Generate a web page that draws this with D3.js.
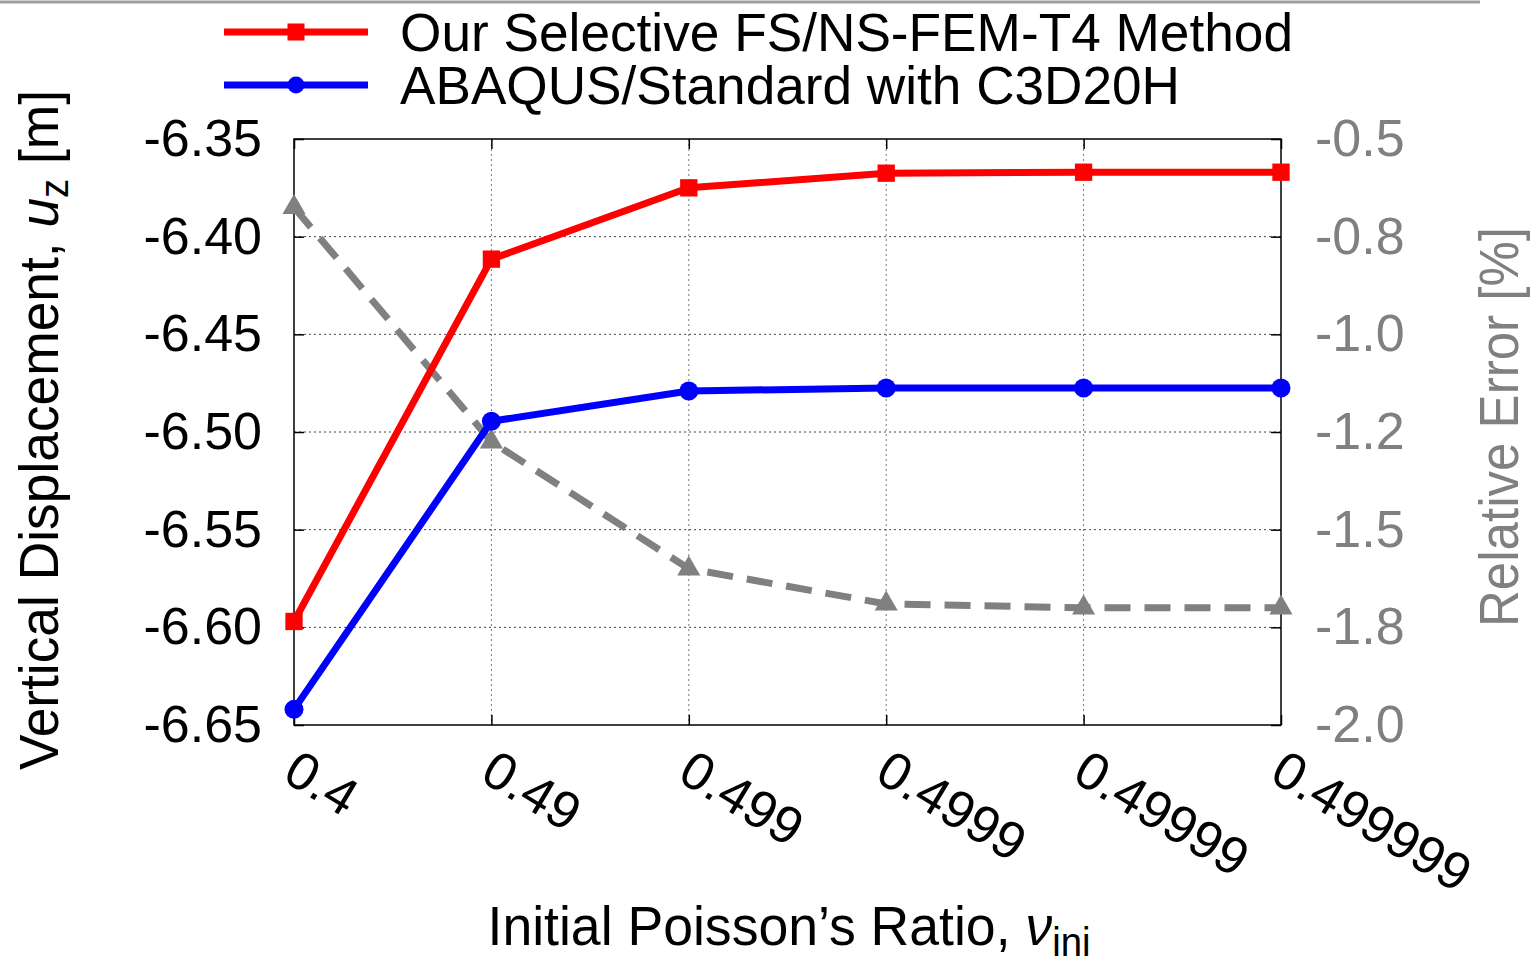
<!DOCTYPE html>
<html>
<head>
<meta charset="utf-8">
<title>Vertical displacement vs initial Poisson's ratio</title>
<script src="https://d3js.org/d3.v7.min.js"></script>
<style>
  body { margin: 0; background: #fff; }
  svg text { font-family: 'Liberation Sans', Arial, Helvetica, sans-serif; }
</style>
</head>
<body>
<svg></svg>
<script>
// begin: data
var poissonLabels = ["0.4", "0.49", "0.499", "0.4999", "0.49999", "0.499999"];
var ourMethod = [-6.597, -6.4115, -6.375, -6.3675, -6.367, -6.367];
var abaqus = [-6.642, -6.4945, -6.479, -6.4775, -6.4775, -6.4775];
var relError = [-0.675, -1.275, -1.60, -1.69, -1.70, -1.70];
var leftTicks = [-6.35, -6.40, -6.45, -6.50, -6.55, -6.60, -6.65];
var rightTicks = [-0.5, -0.75, -1.0, -1.25, -1.5, -1.75, -2.0];
var rightTickLabels = ["-0.5", "-0.8", "-1.0", "-1.2", "-1.5", "-1.8", "-2.0"];
var seriesNames = ["Our Selective FS/NS-FEM-T4 Method", "ABAQUS/Standard with C3D20H"];
// end: data

// begin: layout conf.
var svgWidth = 1537, svgHeight = 963,
    plot = {left: 294, top: 139, right: 1281, bottom: 725},
    gray = "#808080";
// end: layout conf.

var svg = d3.select("svg")
  .attr("width", svgWidth)
  .attr("height", svgHeight);

var x = d3.scalePoint().domain(poissonLabels).range([plot.left, plot.right]);
var yL = d3.scaleLinear().domain([-6.65, -6.35]).range([plot.bottom, plot.top]);
var yR = d3.scaleLinear().domain([-2.0, -0.5]).range([plot.bottom, plot.top]);

// cut-off rule at the very top of the figure
svg.append("line")
  .attr("x1", 0).attr("x2", 1480).attr("y1", 2).attr("y2", 2)
  .attr("stroke", "#a0a0a0").attr("stroke-width", 3);

// grid
var grid = svg.append("g").classed("grid", true);
grid.selectAll(".hgrid")
  .data(leftTicks.slice(1, -1))
  .enter().append("line")
    .attr("x1", plot.left).attr("x2", plot.right)
    .attr("y1", function(d){ return yL(d); })
    .attr("y2", function(d){ return yL(d); })
    .attr("stroke", "#444").attr("stroke-width", 1)
    .attr("stroke-dasharray", "2,3");
grid.selectAll(".vgrid")
  .data(poissonLabels.slice(1, -1))
  .enter().append("line")
    .attr("x1", function(d){ return x(d); })
    .attr("x2", function(d){ return x(d); })
    .attr("y1", plot.top).attr("y2", plot.bottom)
    .attr("stroke", "#777").attr("stroke-width", 1)
    .attr("stroke-dasharray", "2,3");

// axes
function styleAxis(g) {
  g.select(".domain").remove();
  g.selectAll(".tick line").attr("stroke", "#000").attr("stroke-width", 1.5);
}

svg.append("g")
  .attr("transform", "translate(" + plot.left + ",0)")
  .call(d3.axisLeft(yL).tickValues(leftTicks)
    .tickSizeInner(-10).tickSizeOuter(0).tickPadding(32)
    .tickFormat(function(d){ return d.toFixed(2); }))
  .call(styleAxis)
  .selectAll("text")
    .attr("font-size", 52).attr("fill", "#000")
    .attr("font-family", "'Liberation Sans', Arial, sans-serif");

svg.append("g")
  .attr("transform", "translate(" + plot.right + ",0)")
  .call(d3.axisRight(yR).tickValues(rightTicks)
    .tickSizeInner(-10).tickSizeOuter(0).tickPadding(34)
    .tickFormat(function(d, i){ return rightTickLabels[i]; }))
  .call(styleAxis)
  .selectAll("text")
    .attr("font-size", 52).attr("fill", gray)
    .attr("font-family", "'Liberation Sans', Arial, sans-serif");

svg.append("g")
  .attr("transform", "translate(0," + plot.top + ")")
  .call(d3.axisTop(x).tickSizeInner(-10).tickSizeOuter(0).tickFormat(""))
  .call(styleAxis);

var xAxis = svg.append("g")
  .attr("transform", "translate(0," + plot.bottom + ")")
  .call(d3.axisBottom(x).tickSizeInner(-10).tickSizeOuter(0))
  .call(styleAxis);
xAxis.selectAll("text")
  .attr("x", 0).attr("y", 0).attr("dy", "0.72em")
  .attr("text-anchor", "start")
  .attr("transform", "translate(6,22) rotate(31)")
  .attr("font-size", 53).attr("fill", "#000")
  .attr("font-family", "'Liberation Sans', Arial, sans-serif");

// frame
svg.append("rect")
  .attr("x", plot.left).attr("y", plot.top)
  .attr("width", plot.right - plot.left).attr("height", plot.bottom - plot.top)
  .attr("fill", "none").attr("stroke", "#000").attr("stroke-width", 1.5);

// series
var lineL = d3.line().x(function(d, i){ return x(poissonLabels[i]); }).y(function(d){ return yL(d); });
var lineR = d3.line().x(function(d, i){ return x(poissonLabels[i]); }).y(function(d){ return yR(d); });

svg.append("path").datum(relError)
  .attr("d", lineR).attr("fill", "none")
  .attr("stroke", gray).attr("stroke-width", 7)
  .attr("stroke-dasharray", "26,14");
svg.selectAll(".tri").data(relError).enter().append("path")
  .attr("d", d3.symbol().type(d3.symbolTriangle).size(230))
  .attr("transform", function(d, i){ return "translate(" + x(poissonLabels[i]) + "," + yR(d) + ")"; })
  .attr("fill", gray);

svg.append("path").datum(ourMethod)
  .attr("d", lineL).attr("fill", "none")
  .attr("stroke", "#ff0000").attr("stroke-width", 7)
  .attr("stroke-linejoin", "round");
svg.selectAll(".sq").data(ourMethod).enter().append("path")
  .attr("d", d3.symbol().type(d3.symbolSquare).size(300))
  .attr("transform", function(d, i){ return "translate(" + x(poissonLabels[i]) + "," + yL(d) + ")"; })
  .attr("fill", "#ff0000");

svg.append("path").datum(abaqus)
  .attr("d", lineL).attr("fill", "none")
  .attr("stroke", "#0000ff").attr("stroke-width", 7)
  .attr("stroke-linejoin", "round");
svg.selectAll(".dot").data(abaqus).enter().append("circle")
  .attr("cx", function(d, i){ return x(poissonLabels[i]); })
  .attr("cy", function(d){ return yL(d); })
  .attr("r", 9.5)
  .attr("fill", "#0000ff");

// legend
var legend = svg.append("g").classed("legend", true);
var legendY = [32, 85], legendColor = ["#ff0000", "#0000ff"], legendWidth = [893, 780];
seriesNames.forEach(function(name, i) {
  legend.append("line")
    .attr("x1", 224).attr("x2", 368)
    .attr("y1", legendY[i]).attr("y2", legendY[i])
    .attr("stroke", legendColor[i]).attr("stroke-width", 7);
  if (i === 0) {
    legend.append("rect")
      .attr("x", 296 - 8.5).attr("y", legendY[i] - 8.5)
      .attr("width", 17).attr("height", 17).attr("fill", legendColor[i]);
  } else {
    legend.append("circle")
      .attr("cx", 296).attr("cy", legendY[i]).attr("r", 8.5).attr("fill", legendColor[i]);
  }
  legend.append("text")
    .attr("x", 400).attr("y", legendY[i] + 19)
    .attr("font-size", 54)
    .attr("textLength", legendWidth[i]).attr("lengthAdjust", "spacingAndGlyphs")
    .text(name);
});

// axis titles
var yTitle = svg.append("text")
  .attr("transform", "translate(58,430) rotate(-90)")
  .attr("text-anchor", "middle")
  .attr("font-size", 56)
  .attr("textLength", 680).attr("lengthAdjust", "spacingAndGlyphs");
yTitle.append("tspan").text("Vertical Displacement, ");
yTitle.append("tspan").attr("font-style", "italic").text("u");
yTitle.append("tspan").attr("font-size", 40).attr("dy", 10).text("z");
yTitle.append("tspan").attr("dy", -10).text(" [m]");

svg.append("text")
  .attr("transform", "translate(1518,427) rotate(-90)")
  .attr("text-anchor", "middle")
  .attr("font-size", 56)
  .attr("fill", gray)
  .attr("textLength", 400).attr("lengthAdjust", "spacingAndGlyphs")
  .text("Relative Error [%]");

var xTitle = svg.append("text")
  .attr("x", 789).attr("y", 945)
  .attr("text-anchor", "middle")
  .attr("font-size", 56)
  .attr("textLength", 603).attr("lengthAdjust", "spacingAndGlyphs");
xTitle.append("tspan").text("Initial Poisson\u2019s Ratio, ");
xTitle.append("tspan").attr("font-style", "italic").text("\u03bd");
xTitle.append("tspan").attr("font-size", 40).attr("dy", 11).text("ini");
</script>
</body>
</html>
